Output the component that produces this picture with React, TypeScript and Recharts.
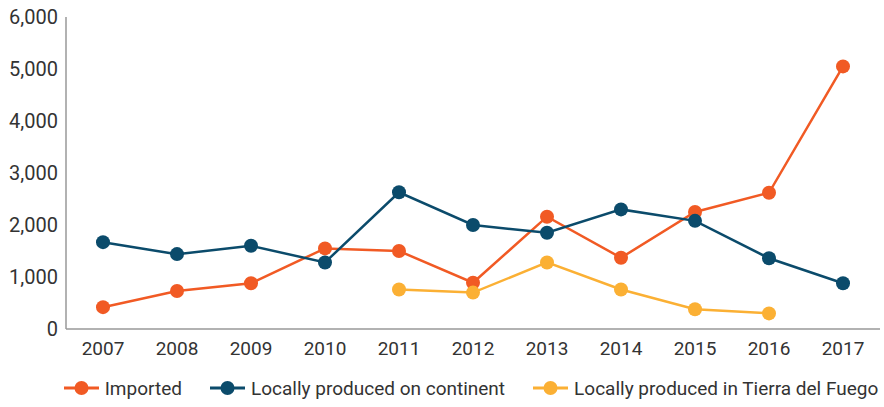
import { CartesianGrid, Legend, Line, LineChart, XAxis, YAxis } from "recharts"

const years = ["2007", "2008", "2009", "2010", "2011", "2012", "2013", "2014", "2015", "2016", "2017"]
const imported = [420, 730, 880, 1550, 1500, 890, 2160, 1370, 2250, 2620, 5050]
const continent = [1670, 1440, 1600, 1280, 2630, 2000, 1850, 2300, 2080, 1360, 880]
const tierraDelFuego = [null, null, null, null, 760, 700, 1280, 760, 380, 300, null]
const yTicks = [0, 1000, 2000, 3000, 4000, 5000, 6000]

const series = [
  { key: "imported", name: "Imported", color: "#F15A24" },
  { key: "continent", name: "Locally produced on continent", color: "#0B4B6B" },
  { key: "tdf", name: "Locally produced in Tierra del Fuego", color: "#FBB034" },
]

const data = years.map((year, i) => ({
  year,
  imported: imported[i],
  continent: continent[i],
  tdf: tierraDelFuego[i],
}))

const font = "Roboto, 'DejaVu Sans', sans-serif"

function LegendContent() {
  return (
    <div
      style={{
        display: "flex",
        justifyContent: "center",
        alignItems: "center",
        height: 38,
        paddingLeft: 62,
        gap: 28,
        fontFamily: font,
        fontSize: 19,
        color: "#333",
      }}
    >
      {series.map((s) => (
        <div key={s.key} style={{ display: "flex", alignItems: "center" }}>
          <svg width={35} height={16} style={{ marginRight: 6 }}>
            <line x1={0} y1={8} x2={35} y2={8} stroke={s.color} strokeWidth={3} />
            <circle cx={17.5} cy={8} r={7} fill={s.color} />
          </svg>
          <span>{s.name}</span>
        </div>
      ))}
    </div>
  )
}

export default function App() {
  return (
    <div style={{ position: "absolute", left: 0, top: 0, background: "#fff" }}>
      <LineChart width={884} height={407} data={data} margin={{ top: 17, right: 4, left: 0, bottom: 0 }}>
        <CartesianGrid horizontal={false} vertical={false} />
        <XAxis
          dataKey="year"
          padding={{ left: 37, right: 37 }}
          tickLine={false}
          axisLine={{ stroke: "#999", strokeWidth: 1.5 }}
          tick={{ fill: "#333", fontSize: 19, fontFamily: font }}
          tickMargin={7}
          height={40}
          interval={0}
        />
        <YAxis
          width={66}
          domain={[0, 6000]}
          ticks={yTicks}
          interval={0}
          tickLine={false}
          axisLine={{ stroke: "#999", strokeWidth: 1.5 }}
          tick={{ fill: "#333", fontSize: 20, fontFamily: font }}
          tickFormatter={(v) => v.toLocaleString("en-US")}
        />
        <Legend verticalAlign="bottom" height={38} content={<LegendContent />} />
        {series.map((s) => (
          <Line
            key={s.key}
            type="linear"
            dataKey={s.key}
            name={s.name}
            stroke={s.color}
            strokeWidth={2.5}
            dot={{ r: 7, fill: s.color, stroke: "none" }}
            activeDot={false}
            connectNulls={false}
            isAnimationActive={false}
          />
        ))}
      </LineChart>
    </div>
  )
}
